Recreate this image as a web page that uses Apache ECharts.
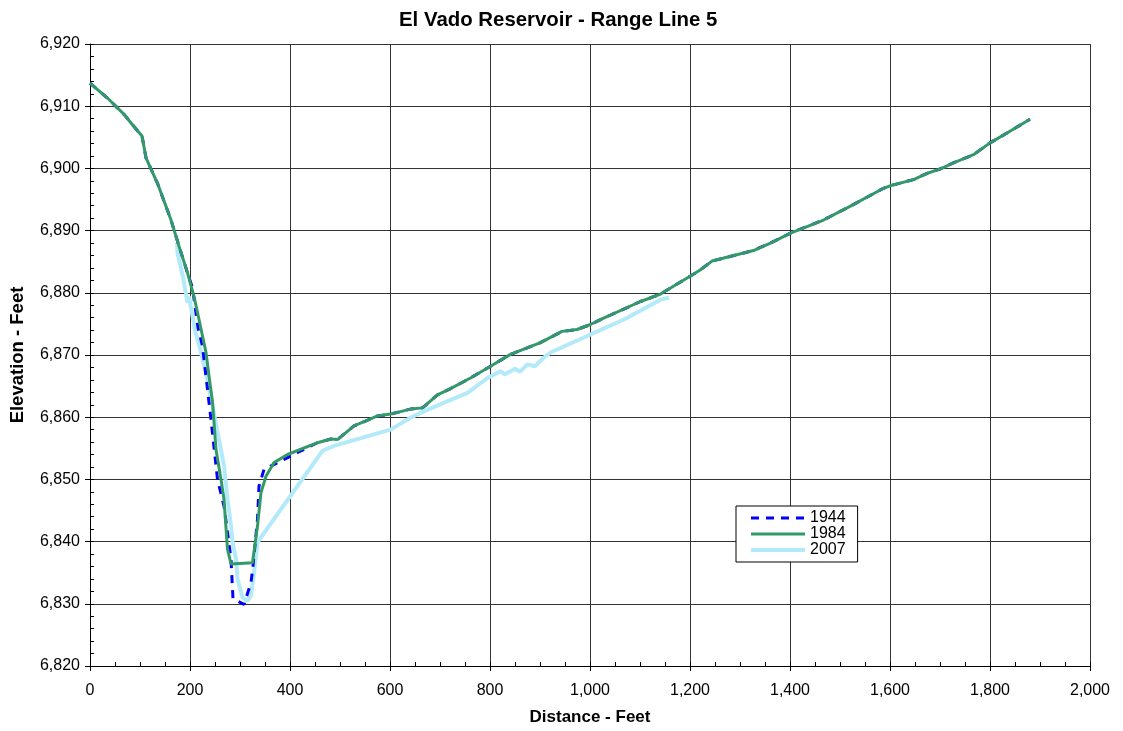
<!DOCTYPE html>
<html>
<head>
<meta charset="utf-8">
<script src="https://cdn.jsdelivr.net/npm/echarts@6/dist/echarts.min.js"></script>
<style>html,body{margin:0;padding:0;background:#fff}#c{width:1123px;height:731px}</style>
</head>
<body>
<div id="c"></div>
<script>
const title = 'El Vado Reservoir - Range Line 5';
const seriesNames = ['1944', '1984', '2007'];

const dist1944 = [0, 39, 69, 82, 104, 112, 135, 162, 178, 195, 205, 216, 225, 242, 255, 268, 282, 286, 308, 322, 326, 335, 338, 348, 388, 422, 455, 482, 495, 528, 575, 601, 641, 665, 695, 721, 761, 801, 841, 901, 944, 974, 1001, 1024, 1101, 1141, 1201, 1221, 1244, 1327, 1361, 1401, 1467, 1520, 1587, 1600, 1647, 1674, 1700, 1727, 1767, 1800, 1834, 1880];
const elev1944 = [6913.7, 6911.0, 6908.6, 6907.3, 6905.2, 6901.7, 6897.6, 6891.7, 6887.5, 6883.2, 6880.8, 6874.4, 6871.4, 6859.6, 6850.0, 6845.7, 6837.2, 6830.8, 6829.9, 6833.4, 6836.1, 6843.6, 6848.9, 6851.6, 6853.2, 6854.6, 6855.9, 6856.5, 6856.4, 6858.6, 6860.2, 6860.5, 6861.3, 6861.5, 6863.6, 6864.6, 6866.3, 6868.2, 6870.1, 6872.0, 6873.8, 6874.1, 6874.9, 6875.8, 6878.6, 6879.8, 6882.7, 6883.7, 6885.1, 6886.8, 6888.0, 6889.6, 6891.7, 6893.9, 6896.8, 6897.2, 6898.2, 6899.2, 6899.9, 6900.9, 6902.2, 6904.1, 6905.7, 6907.9];

const dist1984 = [0, 39, 69, 82, 104, 112, 135, 162, 178, 195, 208, 218, 232, 238, 245, 252, 262, 268, 275, 282, 325, 335, 342, 352, 368, 395, 455, 482, 495, 528, 575, 601, 641, 665, 695, 721, 761, 801, 841, 901, 944, 974, 1001, 1024, 1101, 1141, 1201, 1221, 1244, 1327, 1361, 1401, 1467, 1520, 1587, 1600, 1647, 1674, 1700, 1727, 1767, 1800, 1834, 1880];
const elev1984 = [6913.7, 6911.0, 6908.6, 6907.3, 6905.2, 6901.7, 6897.6, 6891.7, 6887.5, 6883.2, 6879.4, 6875.7, 6870.4, 6866.6, 6862.5, 6854.8, 6850.0, 6846.8, 6838.8, 6836.4, 6836.6, 6842.5, 6847.9, 6850.5, 6852.7, 6854.0, 6855.9, 6856.5, 6856.4, 6858.6, 6860.2, 6860.5, 6861.3, 6861.5, 6863.6, 6864.6, 6866.3, 6868.2, 6870.1, 6872.0, 6873.8, 6874.1, 6874.9, 6875.8, 6878.6, 6879.8, 6882.7, 6883.7, 6885.1, 6886.8, 6888.0, 6889.6, 6891.7, 6893.9, 6896.8, 6897.2, 6898.2, 6899.2, 6899.9, 6900.9, 6902.2, 6904.1, 6905.7, 6907.9];

const dist2007 = [174, 175, 186, 195, 198, 210, 222, 232, 245, 258, 268, 275, 282, 285, 292, 295, 305, 315, 322, 328, 335, 465, 488, 601, 641, 661, 701, 755, 795, 821, 830, 850, 860, 875, 890, 900, 908, 921, 1001, 1068, 1141, 1158];
const elev2007 = [6888.1, 6886.4, 6882.5, 6878.4, 6879.4, 6874.0, 6870.4, 6867.1, 6861.8, 6856.4, 6852.2, 6846.8, 6842.5, 6839.9, 6837.2, 6834.0, 6831.0, 6830.5, 6831.3, 6835.0, 6839.9, 6854.6, 6855.4, 6858.0, 6859.9, 6860.7, 6862.1, 6863.9, 6866.3, 6867.4, 6866.9, 6867.8, 6867.3, 6868.5, 6868.2, 6869.0, 6869.6, 6870.4, 6873.3, 6875.7, 6878.9, 6879.2];

function pairs(xs, ys) { return xs.map((x, i) => [x, ys[i]]); }
const fmt = v => v.toLocaleString('en-US');
const FONT = '"Liberation Sans", Arial, sans-serif';

const chart = echarts.init(document.getElementById('c'), null, {renderer: 'canvas'});
chart.setOption({
  animation: false,
  backgroundColor: '#fff',
  textStyle: {fontFamily: FONT, color: '#000'},
  title: {
    text: title, left: 394, top: 5,
    textStyle: {fontFamily: FONT, fontWeight: 'bold', fontSize: 20.4, color: '#000'}
  },
  grid: {left: 89, right: 33, top: 44, bottom: 64, containLabel: false},
  legend: {
    orient: 'vertical', left: 736, top: 506,
    padding: [4, 12, 4, 13], itemGap: 0,
    itemWidth: 54, itemHeight: 12,
    backgroundColor: '#fff', borderColor: '#000', borderWidth: 1,
    itemStyle: {opacity: 0},
    lineStyle: {width: 'inherit'},
    textStyle: {fontFamily: FONT, fontSize: 16, color: '#000'},
    data: seriesNames
  },
  xAxis: [{
    type: 'value', min: 0, max: 2000, interval: 200,
    name: 'Distance - Feet', nameLocation: 'middle', nameGap: 43,
    nameTextStyle: {fontFamily: FONT, fontWeight: 'bold', fontSize: 17, color: '#000'},
    axisLine: {show: true, lineStyle: {color: '#000', width: 1}},
    axisTick: {show: true, inside: false, length: 5, lineStyle: {color: '#000'}},
    axisLabel: {fontFamily: FONT, fontSize: 16, color: '#000', margin: 17, formatter: fmt},
    splitLine: {show: true, lineStyle: {color: '#333', width: 1}}
  }, {
    type: 'value', min: 0, max: 2000, interval: 50, position: 'bottom',
    axisLine: {show: false}, axisLabel: {show: false},
    axisTick: {show: true, inside: true, length: 4, lineStyle: {color: '#000'}},
    splitLine: {show: false}
  }],
  yAxis: [{
    type: 'value', min: 6820, max: 6920, interval: 10,
    name: 'Elevation - Feet', nameLocation: 'middle', nameGap: 63, nameRotate: 90,
    nameTextStyle: {fontFamily: FONT, fontWeight: 'bold', fontSize: 18.5, color: '#000'},
    axisLine: {show: true, lineStyle: {color: '#000', width: 1}},
    axisTick: {show: true, inside: false, length: 5, lineStyle: {color: '#000'}},
    axisLabel: {fontFamily: FONT, fontSize: 16, color: '#000', margin: 10, formatter: fmt},
    splitLine: {show: true, lineStyle: {color: '#333', width: 1}}
  }, {
    type: 'value', min: 6820, max: 6920, interval: 2, position: 'left', offset: 0,
    axisLine: {show: false}, axisLabel: {show: false},
    axisTick: {show: true, inside: true, length: 4, lineStyle: {color: '#000'}},
    splitLine: {show: false}
  }],
  series: [
    {
      name: '2007', type: 'line', z: 2, symbol: 'none', smooth: false,
      data: pairs(dist2007, elev2007),
      lineStyle: {color: '#b3eafa', width: 4},
      itemStyle: {color: '#b3eafa'}
    },
    {
      name: '1944', type: 'line', z: 3, symbol: 'none', smooth: false,
      data: pairs(dist1944, elev1944),
      lineStyle: {color: '#0000ff', width: 3, type: [8, 7]},
      itemStyle: {color: '#0000ff'}
    },
    {
      name: '1984', type: 'line', z: 4, symbol: 'none', smooth: false,
      data: pairs(dist1984, elev1984),
      lineStyle: {color: '#339966', width: 3},
      itemStyle: {color: '#339966'}
    }
  ]
});
</script>
</body>
</html>
